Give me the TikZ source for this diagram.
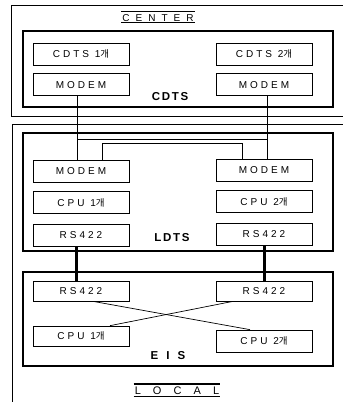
\documentclass[tikz,border=0pt]{standalone}
\usepackage{fontspec}
\usetikzlibrary{positioning}
\setmainfont{Liberation Sans}
\newfontfamily\boxfont[LetterSpace=30]{Liberation Sans}
\newfontfamily\grpfont[LetterSpace=15]{Liberation Sans}
\newfontfamily\krfont{Noto Sans CJK KR}
\newcommand{\krgae}{{\krfont\fontsize{9.5}{11}\selectfont 개}}

\begin{document}
\begin{tikzpicture}[x=1pt,y=-1pt,font=\boxfont\fontsize{10}{12}\selectfont,node distance=8pt]
\tikzset{box/.style={draw,line width=.7pt,minimum width=96pt,minimum height=22pt,inner sep=0pt},
         grp/.style={draw,line width=1.2pt,minimum width=310pt,inner sep=0pt},
         lbl/.style={font=\grpfont\fontsize{11.5}{13}\selectfont\bfseries},
         ttl/.style={inner sep=1pt,font=\grpfont\fontsize{10}{12}\selectfont\addfontfeature{LetterSpace=60}},
         wire/.style={line width=.7pt},
         bus/.style={line width=3pt}}
\useasboundingbox (0,0) rectangle (343,402);
\draw[line width=.6pt] (11,5) rectangle (360,116);
\draw[line width=.6pt] (12,420) |- (360,124);
\node[ttl] (centerlbl) at (158,18) {CENTER};
\draw[line width=1.3pt] ([yshift=2pt]centerlbl.north west) -- ([yshift=2pt]centerlbl.north east);
\draw[line width=.7pt] (centerlbl.south west) -- (centerlbl.south east);
\node[grp,minimum height=76pt] (cdtsbox) at (178,69) {};
\node[box] (cdts1) at (81,54) {CDTS 1\krgae};
\node[box,below=of cdts1] (cmodem1) {MODEM};
\node[box] (cdts2) at (264,54) {CDTS 2\krgae};
\node[box,below=of cdts2] (cmodem2) {MODEM};
\node[lbl] (cdtslbl) at (170,97) {CDTS};
\node[grp,minimum height=118pt] (ldtsbox) at (178,192) {};
\node[box] (lmodem1) at (81,171) {MODEM};
\node[box,below=9pt of lmodem1] (lcpu1) {CPU 1\krgae};
\node[box,below=10pt of lcpu1] (lrs1) {RS422};
\node[box] (lmodem2) at (264,170) {MODEM};
\node[box,below=9pt of lmodem2] (lcpu2) {CPU 2\krgae};
\node[box,below=10pt of lcpu2] (lrs2) {RS422};
\node[lbl] (ldtslbl) at (172,238) {LDTS};
\node[grp,minimum height=94pt] (eisbox) at (178,319) {};
\node[box,minimum height=20pt] (ers1) at (81,291) {RS422};
\node[box,minimum height=20pt] (ers2) at (264,291) {RS422};
\node[box,minimum height=20pt] (ecpu1) at (81,336) {CPU 1\krgae};
\node[box] (ecpu2) at (264,341) {CPU 2\krgae};
\node[lbl] (eislbl) at (168,356) {\addfontfeature{LetterSpace=70}EIS};
\node[ttl,font=\grpfont\fontsize{11}{13}\selectfont\addfontfeature{LetterSpace=110}] (locallbl) at (177,391) {LOCAL};
\draw[line width=1.3pt] ([yshift=2pt]locallbl.north west) -- ([yshift=2pt]locallbl.north east);
\draw[line width=.7pt] (locallbl.south west) -- (locallbl.south east);
\coordinate (tapl) at (77,139); \coordinate (tapr) at (267,139);
\draw[wire] ([xshift=-4pt]cmodem1.south) -- ([xshift=-4pt]lmodem1.north);
\draw[wire] ([xshift=3pt]cmodem2.south) -- ([xshift=3pt]lmodem2.north);
\draw[wire] (tapl) -- (tapr);
\draw[wire] ([xshift=21pt]lmodem1.north) -- ++(0,-16) -| ([xshift=-22pt]lmodem2.north);
\draw[bus] ([xshift=-5pt]lrs1.south) -- ([xshift=-5pt]ers1.north);
\draw[bus] (lrs2.south) -- (ers2.north);
\draw[wire] ([xshift=12pt]ers1.south) -- ([xshift=-14pt]ecpu2.north);
\draw[wire] ([xshift=-31pt]ers2.south) -- ([xshift=29pt]ecpu1.north);
\end{tikzpicture}
\end{document}
